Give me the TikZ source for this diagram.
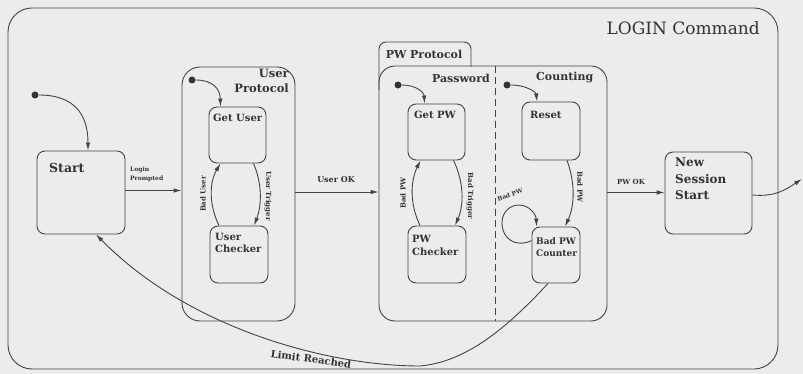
\documentclass[tikz,border=0pt]{standalone}
\usepackage{fontspec}
\setmainfont{DejaVu Serif}
\usetikzlibrary{arrows.meta,calc}
\definecolor{ink}{HTML}{444444}
\definecolor{txt}{HTML}{333333}
\definecolor{paper}{HTML}{ECECEC}
\begin{document}
\begin{tikzpicture}[x=1pt,y=-1pt,
  state/.style={draw=ink, line width=0.9pt, rounded corners=8pt, inner sep=0pt},
  region/.style={draw=ink, line width=0.9pt, rounded corners=16pt, inner sep=0pt},
  lbl/.style={inner sep=0pt, text=txt},
  trans/.style={draw=ink, line width=0.9pt, -{Latex[length=8pt,width=4.5pt]}},
  initdot/.style={circle, fill=txt, inner sep=0pt, minimum size=7pt},
  fs/.style={font=\bfseries\fontsize{#1}{#1}\selectfont},
]
\useasboundingbox (0,0) rectangle (803,374);
\fill[paper] (0,0) rectangle (803,374);

% outer frame
\node[region, rounded corners=24pt, minimum width=770, minimum height=361] (login) at (393,188.5) {};
\node[lbl, anchor=east, font=\fontsize{17}{20}\selectfont] (logint) at (760,28) {LOGIN Command};

% Start
\node[state, minimum width=88, minimum height=83] (start) at (81,192.5) {};
\node[lbl, anchor=west, fs=12.5] (startt) at (49,168) {Start};
\node[initdot] (i0) at (35,95) {};
\draw[trans] (i0) .. controls (75,95) and (88,115) .. ($(start.north)+(7,0)$);

% User Protocol
\node[region, rounded corners=18pt, minimum width=113, minimum height=254] (uproto) at (238.5,194) {};
\node[lbl, anchor=east, align=right, font=\bfseries\fontsize{11.5}{15}\selectfont] (uprotot) at (289,80.5) {User\\Protocol};
\node[state, minimum width=57, minimum height=56] (getuser) at (237.5,135) {};
\node[lbl, anchor=west, fs=10] (getusert) at (213,118) {Get User};
\node[state, minimum width=58, minimum height=57] (userchk) at (239,254.5) {};
\node[lbl, anchor=west, align=left, font=\bfseries\fontsize{10}{12.5}\selectfont] (userchkt) at (215,243) {User\\Checker};
\node[initdot] (i1) at (192,80) {};
\draw[trans] (i1) .. controls (212,80) and (220,88) .. ($(getuser.north)+(-17,0)$);
\draw[trans] ($(userchk.north)+(-20,0)$) .. controls (209,205) and (209,183) .. ($(getuser.south)+(-17,0)$);
\draw[trans] ($(getuser.south)+(16,0)$) .. controls (262,183) and (262,205) .. ($(userchk.north)+(15,0)$);
\node[lbl, rotate=90, fs=7] (baduser) at (203,194) {Bad User};
\node[lbl, rotate=-90, fs=7] (usertrig) at (268,196) {User Trigger};

% PW Protocol
\draw[ink, line width=0.9pt, rounded corners=7pt] (379,90) -- (379,42) -- (471,42) -- (471,67);
\node[lbl, fs=11] (pwtabt) at (424,54) {PW Protocol};
\node[region, minimum width=228, minimum height=255] (pwbody) at (493,193.5) {};
\draw[ink, line width=0.9pt, dash pattern=on 7pt off 4pt] ($(pwbody.north)+(2,0)$) -- ($(pwbody.south)+(2,0)$);
\node[lbl, anchor=east, fs=11] (passt) at (490,78) {Password};
\node[lbl, anchor=west, fs=11] (countt) at (536,78) {Counting};

% Password region
\node[state, minimum width=57, minimum height=56] (getpw) at (436.5,132) {};
\node[lbl, anchor=west, fs=10] (getpwt) at (414,115) {Get PW};
\node[state, minimum width=58, minimum height=57] (pwchk) at (437,254.5) {};
\node[lbl, anchor=west, align=left, font=\bfseries\fontsize{10}{13}\selectfont] (pwchkt) at (412,245) {PW\\Checker};
\node[initdot] (i2) at (398,85) {};
\draw[trans] (i2) .. controls (416,85) and (424,92) .. ($(getpw.north)+(-12,0)$);
\draw[trans] ($(pwchk.north)+(-17,0)$) .. controls (410,205) and (410,182) .. ($(getpw.south)+(-16,0)$);
\draw[trans] ($(getpw.south)+(17,0)$) .. controls (464,182) and (464,205) .. ($(pwchk.north)+(18,0)$);
\node[lbl, rotate=90, fs=7] (badpw1) at (403,193) {Bad PW};
\node[lbl, rotate=-90, fs=7] (badtrig) at (470,196) {Bad Trigger};

% Counting region
\node[state, minimum width=58, minimum height=58] (reset) at (551,131) {};
\node[lbl, anchor=west, fs=10] (resett) at (530,115) {Reset};
\node[state, minimum width=48, minimum height=56] (badctr) at (556,255) {};
\node[lbl, anchor=west, align=left, font=\bfseries\fontsize{9}{12}\selectfont] (badctrt) at (536,247) {Bad PW\\Counter};
\node[initdot] (i3) at (507,85) {};
\draw[trans] (i3) .. controls (526,85) and (536,92) .. ($(reset.north)+(-14,0)$);
\draw[trans] ($(reset.south)+(16,0)$) .. controls (575,182) and (575,205) .. ($(badctr.north)+(9,0)$);
\node[lbl, rotate=-90, fs=7] (badpw2) at (580,187) {Bad PW};
\coordinate (loopl) at (502,223);
\coordinate (loopt) at (519,205);
\draw[trans] ($(badctr.north west)+(0,14)$) .. controls (516,248) and (502,239) .. (loopl)
  .. controls (502,211) and (511,205) .. (loopt)
  .. controls (529,205) and (536,214) .. ($(badctr.north west)+(5,0)$);
\node[lbl, rotate=20, fs=6] (badpw3) at (510,195) {Bad PW};

% New Session
\node[state, minimum width=87, minimum height=82] (newsess) at (708.5,193) {};
\node[lbl, anchor=north west, align=left, font=\bfseries\fontsize{12}{16.5}\selectfont] (newsesst) at (675,158) {New\\Session\\Start};
\coordinate (exit) at (802,179);
\draw[trans] ($(newsess.east)+(0,2)$) .. controls (775,197) and (785,190) .. (exit);

% Transitions between regions
\coordinate (lp) at ($(start.east)+(0,-2)$);
\draw[trans] (lp) -- (lp -| uproto.west);
\node[lbl, anchor=west, align=left, font=\bfseries\fontsize{6}{8.5}\selectfont] (loginp) at (130,174.5) {Login\\Prompted};
\coordinate (uok) at ($(uproto.east)+(0,-2)$);
\draw[trans] (uok) -- (uok -| pwbody.west);
\node[lbl, fs=8] (userok) at (336,180) {User OK};
\coordinate (pok) at ($(pwbody.east)+(0,-1)$);
\draw[trans] (pok) -- (pok -| newsess.west);
\node[lbl, fs=7] (pwok) at (631,182) {PW OK};

% Limit Reached
\coordinate (lowpt) at (420,366);
\draw[trans] ($(badctr.south)+(-8,0)$) .. controls (505,330) and (465,362) .. (lowpt) .. controls (330,366) and (190,330) .. ($(start.south)+(15,0)$);
\node[lbl, rotate=-8, fs=10] (limit) at (311,359) {Limit Reached};
\end{tikzpicture}
\end{document}
